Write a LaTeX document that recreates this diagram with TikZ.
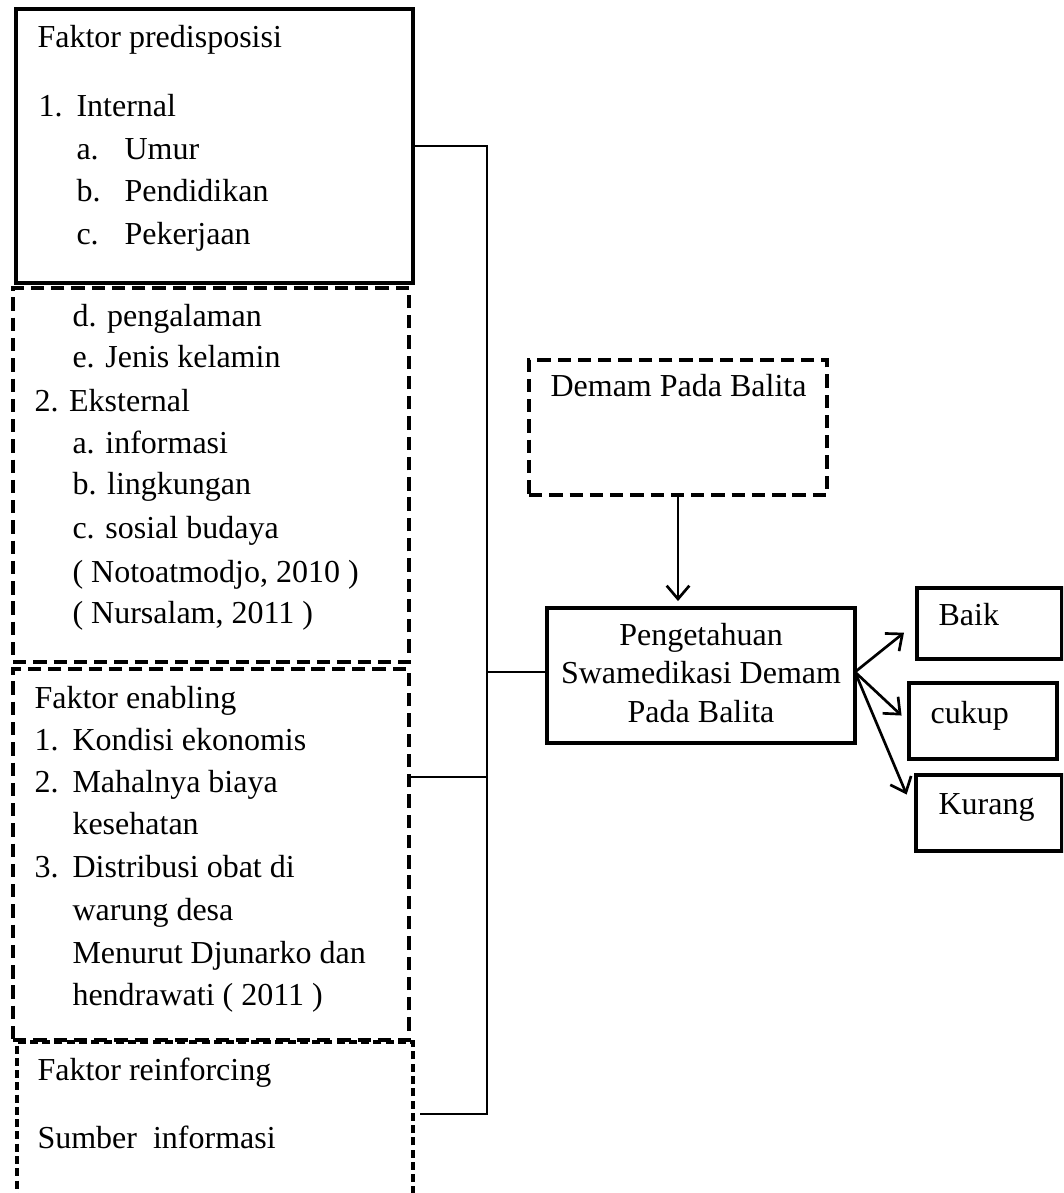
\documentclass[tikz,border=0pt]{standalone}
\usepackage{fontspec}
\setmainfont{Liberation Serif}
\usetikzlibrary{arrows.meta}

\def\pxu{0.375pt}
\newcommand{\nomor}[2]{\makebox[#1][l]{#2}}

\tikzset{
    kotak/.style={draw, line width=1.2pt, inner sep=0pt},
    kotakputus/.style={kotak, dash pattern=on 5pt off 2.6pt},
    teks/.style={anchor=base west, inner sep=0pt, font=\fontsize{12}{14}\selectfont},
    garis/.style={line width=0.6pt},
    panah/.style={line width=1pt, -{Straight Barb[length=5pt,width=8.5pt]}}
}

\begin{document}
\begin{tikzpicture}[x=0.375pt, y=-0.375pt]
    \useasboundingbox (0,0) rectangle (1063,1193);
    \clip (0,0) rectangle (1063,1193);

    % kotak kiri
    \node[kotak, minimum width=397*\pxu, minimum height=274*\pxu] (pred) at (214.5,146) {};
    \node[kotakputus, minimum width=396*\pxu, minimum height=374*\pxu] (pred2) at (211,475) {};
    \node[kotakputus, minimum width=396*\pxu, minimum height=371*\pxu] (enab) at (211,854.5) {};
    \node[kotakputus, dash pattern=on 3pt off 1.6pt, minimum width=396*\pxu, minimum height=198*\pxu] (reinf) at (215,1141) {};

    % kotak kanan
    \node[kotakputus, minimum width=298*\pxu, minimum height=135*\pxu] (demam) at (678,427.5) {};
    \node[kotak, minimum width=308*\pxu, minimum height=135*\pxu] (penget) at (701,675.5) {};
    \node[kotak, minimum width=145*\pxu, minimum height=71*\pxu] (baik) at (989.5,623.5) {};
    \node[kotak, minimum width=148*\pxu, minimum height=76*\pxu] (cukup) at (983,721) {};
    \node[kotak, minimum width=146*\pxu, minimum height=76*\pxu] (kurang) at (989,813) {};

    % isi kotak
    \node[teks] (tpred) at (37,48) {Faktor predisposisi};
    \node[teks] (tint) at (38,117) {\nomor{14.25pt}{1.}Internal};
    \foreach \y/\n/\t in {160/a./Umur, 202/b./Pendidikan, 245/c./Pekerjaan}
        \node[teks] at (76,\y) {\nomor{18pt}{\n}\t};

    \foreach \y/\t in {327/d. pengalaman, 368/e. Jenis kelamin, 453/a. informasi,
        495/b. lingkungan, 538/c. sosial budaya, 582/{( Notoatmodjo, 2010 )},
        623/{( Nursalam, 2011 )}}
        \node[teks] at (72,\y) {\t};
    \node[teks] (teks2) at (34,412) {2. Eksternal};

    \node[teks] (tenab) at (34,708) {Faktor enabling};
    \foreach \y/\n/\t in {750/1./Kondisi ekonomis, 792/2./Mahalnya biaya, 877/3./Distribusi obat di}
        \node[teks] at (34,\y) {\nomor{14.25pt}{\n}\t};
    \foreach \y/\t in {834/kesehatan, 920/warung desa, 963/Menurut Djunarko dan, 1005/hendrawati ( 2011 )}
        \node[teks] at (72,\y) {\t};

    \node[teks] (treinf) at (37,1080) {Faktor reinforcing};
    \node[teks] (tsumber) at (37,1148) {Sumber~ informasi};

    \node[teks] (tdemam) at (550,397) {Demam Pada Balita};
    \node[teks, anchor=base] (tpeng1) at (701,645) {Pengetahuan};
    \node[teks, anchor=base] (tpeng2) at (701,683) {Swamedikasi Demam};
    \node[teks, anchor=base] (tpeng3) at (701,722) {Pada Balita};
    \node[teks] (tbaik) at (938,625) {Baik};
    \node[teks] (tcukup) at (930,723) {cukup};
    \node[teks] (tkurang) at (938,814) {Kurang};

    % garis penghubung
    \coordinate (busatas) at (487,146);
    \coordinate (busenab) at (487,777);
    \coordinate (bustengah) at (487,672);
    \coordinate (busbawah) at (487,1114);
    \coordinate (cabang) at (855,672);

    \draw[garis] (pred.east) -- (busatas) -- (busbawah) -- ([xshift=2pt]reinf.east |- busbawah);
    \draw[garis] (enab.east |- busenab) -- (busenab);
    \draw[garis] (bustengah) -- (penget.west |- bustengah);

    \draw[panah, shorten >=2pt] (demam.south) -- (demam.south |- penget.north);
    \draw[panah, shorten >=5.5pt] (cabang) -- (baik.west);
    \draw[panah, shorten >=3pt] (cabang) -- (cukup.west);
    \draw[panah, shorten >=7.5pt] (cabang) -- (kurang.west);
\end{tikzpicture}
\end{document}
